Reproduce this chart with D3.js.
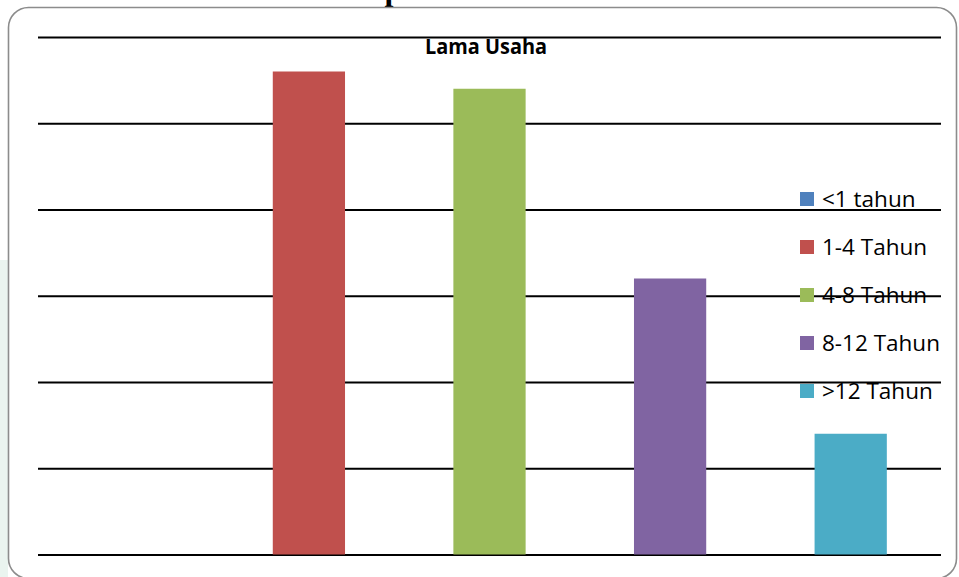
<!DOCTYPE html>
<html>
<head>
<meta charset="utf-8">
<script src="https://cdn.jsdelivr.net/npm/d3@7"></script>
<style>
  html, body { margin: 0; padding: 0; background: #ffffff; }
  svg { display: block; }
</style>
</head>
<body>
<svg id="chart" width="959" height="577"></svg>
<script>
// Respondents by length of business (count per category)
const categories = ["<1 tahun", "1-4 Tahun", "4-8 Tahun", "8-12 Tahun", ">12 Tahun"];
const values = [0, 28, 27, 16, 7];
const colors = ["#4F81BD", "#C0504D", "#9BBB59", "#8064A2", "#4BACC6"];
const gridTicks = [0, 5, 10, 15, 20, 25, 30];
const chartTitle = "Lama Usaha";
const captionText = "Karakteristik Responden Berdasarkan Lama Usaha";

const svg = d3.select("#chart");

// soft tint outside the chart frame
svg.append("rect")
  .attr("x", 0).attr("y", 260).attr("width", 8).attr("height", 317)
  .attr("fill", "#eaf4ef");

// caption of the figure, running off the top edge
svg.append("text")
  .attr("x", 140).attr("y", 0.2)
  .attr("font-family", "'Liberation Serif', serif")
  .attr("font-weight", "bold")
  .attr("font-size", 32)
  .attr("fill", "#000")
  .text(captionText);

// chart frame
svg.append("rect")
  .attr("x", 8.5).attr("y", 7.5)
  .attr("width", 948).attr("height", 571)
  .attr("rx", 20).attr("ry", 20)
  .attr("fill", "#ffffff")
  .attr("stroke", "#8c8c8c")
  .attr("stroke-width", 1.6);

const plot = { left: 38, right: 941, top: 37, bottom: 554.5 };

const x = d3.scaleBand()
  .domain(categories)
  .range([plot.left, plot.right])
  .paddingInner(0.6)
  .paddingOuter(0.3);

const y = d3.scaleLinear()
  .domain([0, 30])
  .range([plot.bottom, plot.top]);

// horizontal gridlines (no tick labels)
const grid = svg.append("g")
  .attr("transform", `translate(${plot.left},0)`)
  .call(d3.axisLeft(y)
    .tickValues(gridTicks)
    .tickSize(-(plot.right - plot.left))
    .tickFormat(""));
grid.select(".domain").remove();
grid.selectAll(".tick line")
  .attr("stroke", "#000")
  .attr("stroke-width", 2);

// bars
svg.append("g")
  .selectAll("rect")
  .data(categories)
  .join("rect")
  .attr("x", d => x(d))
  .attr("y", (d, i) => y(values[i]))
  .attr("width", x.bandwidth())
  .attr("height", (d, i) => y(0) - y(values[i]))
  .attr("fill", (d, i) => colors[i]);

// title
svg.append("text")
  .attr("x", 486).attr("y", 54)
  .attr("text-anchor", "middle")
  .attr("font-family", "'Open Sans', sans-serif")
  .attr("font-weight", "bold")
  .attr("font-size", 21)
  .attr("textLength", 122)
  .attr("lengthAdjust", "spacingAndGlyphs")
  .attr("fill", "#000")
  .text(chartTitle);

// legend
const legend = svg.append("g")
  .selectAll("g")
  .data(categories)
  .join("g")
  .attr("transform", (d, i) => `translate(800,${192 + i * 48})`);

legend.append("rect")
  .attr("width", 14).attr("height", 14)
  .attr("fill", (d, i) => colors[i]);

legend.append("text")
  .attr("x", 22).attr("y", 15)
  .attr("font-family", "'Open Sans', sans-serif")
  .attr("font-size", 22.5)
  .attr("fill", "#000")
  .text(d => d);
</script>
</body>
</html>
